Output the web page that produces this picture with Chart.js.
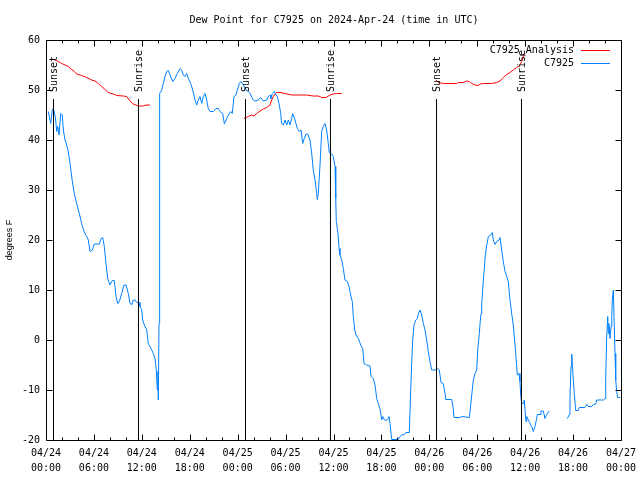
<!DOCTYPE html>
<html>
<head>
<meta charset="utf-8">
<title>Dew Point for C7925</title>
<script src="https://cdn.jsdelivr.net/npm/chart.js@4.4.1/dist/chart.umd.min.js"></script>
<style>
  html, body { margin: 0; padding: 0; background: #fff; }
  #wrap { width: 640px; height: 480px; }
</style>
</head>
<body>
<div id="wrap"><canvas id="dewChart" width="640" height="480"></canvas></div>
<script>
// Chart text
const chartTitle = 'Dew Point for C7925 on 2024-Apr-24 (time in UTC)';
const yAxisTitle = 'degrees F';
const legendLabels = ['C7925_Analysis', 'C7925'];
const seriesColors = ['rgb(255,0,0)', 'rgb(0,128,255)'];

// x axis: hours since 04/24 00:00 UTC, labelled every 6 hours
const xTickLabels = [
    ['04/24', '00:00'], ['04/24', '06:00'], ['04/24', '12:00'], ['04/24', '18:00'],
    ['04/25', '00:00'], ['04/25', '06:00'], ['04/25', '12:00'], ['04/25', '18:00'],
    ['04/26', '00:00'], ['04/26', '06:00'], ['04/26', '12:00'], ['04/26', '18:00'],
    ['04/27', '00:00']
];
const yMin = -20, yMax = 60, yStep = 10;

// Sunset / sunrise markers (hours) and the height their lines reach
const eventHours = [0.94, 11.58, 24.98, 35.62, 48.90, 59.54];
const eventLabels = ['Sunset', 'Sunrise', 'Sunset', 'Sunrise', 'Sunset', 'Sunrise'];
const eventTop = 48.2;

// Analysis dew point [hour, degF]; null = no data
const analysisSeries = [
    [0.79, 56.2], [1.13, 56], [1.54, 55.7], [1.97, 55.3], [2.38, 55], [2.79, 54.7],
    [3.22, 54.1], [3.54, 53.7], [3.84, 53.2], [4.47, 52.9], [5.10, 52.5], [5.72, 52],
    [6.14, 51.8], [6.55, 51.3], [6.97, 50.7], [7.39, 50.1], [7.80, 49.5], [8.43, 49.2],
    [8.85, 48.9], [9.68, 48.8], [10.11, 48.7], [10.52, 47.8], [10.93, 47.2], [11.56, 46.8],
    [12.18, 46.8], [12.52, 47], [13.02, 47],
    [18, null],
    [24.79, 44.3], [25.33, 44.7], [25.76, 45], [26.05, 44.8], [26.38, 45.3], [26.80, 45.8],
    [27.21, 46.2], [27.64, 46.5], [28.05, 47], [28.26, 48], [28.46, 48.7], [28.68, 49.2],
    [28.89, 49.5], [29.30, 49.5], [29.93, 49.3], [30.77, 49], [31.59, 49], [32.64, 49],
    [33.47, 48.8], [34.10, 48.8], [34.52, 48.5], [35.06, 48.5], [35.56, 49], [35.98, 49.2],
    [36.40, 49.3], [37.03, 49.3],
    [42, null],
    [48.84, 52], [49.12, 51.5], [49.75, 51.3], [51.43, 51.3], [51.63, 51.5], [52.25, 51.5],
    [52.68, 51.8], [53.01, 51.7], [53.31, 51.3], [53.72, 51], [54.13, 50.9], [54.35, 51.2],
    [54.76, 51.3], [55.81, 51.3], [56.44, 51.5], [56.85, 51.8], [57.26, 52.5], [57.69, 53.1],
    [58.10, 53.5], [58.51, 54], [58.94, 54.5], [59.27, 54.8], [59.57, 55.7], [59.77, 56.7],
    [59.98, 57.3]
];

// Observed dew point at C7925 [hour, degF]; null = no data
const observedSeries = [
    [0.29, 45.7], [0.59, 43.3], [0.79, 46], [0.91, 46.3], [1.04, 45.7], [1.21, 44],
    [1.34, 41.7], [1.47, 42.7], [1.63, 41], [1.84, 45.3], [2.04, 45], [2.17, 42],
    [2.38, 40], [2.59, 39], [2.79, 37.7], [3.01, 35.3], [3.29, 31.8], [3.54, 29.3],
    [3.84, 27.3], [4.17, 25.3], [4.47, 23.3], [4.76, 21.7], [5.10, 20.7], [5.30, 20],
    [5.51, 17.7], [5.80, 18], [6.05, 19.2], [6.67, 19.2], [6.89, 20.3], [7.10, 20.5],
    [7.30, 18.7], [7.51, 15.3], [7.73, 12.3], [8.01, 11], [8.30, 11.9], [8.55, 11.9],
    [8.77, 8.7], [8.98, 7.3], [9.18, 7.7], [9.48, 9.3], [9.77, 11], [10.02, 11],
    [10.31, 9.3], [10.52, 7.3], [10.77, 7.1], [10.93, 8], [11.14, 8], [11.36, 7.5],
    [11.65, 7.5], [11.77, 6.7], [11.98, 6.1], [12.11, 4], [12.31, 3], [12.61, 2],
    [12.81, -0.7], [13.15, -1.7], [13.44, -2.7], [13.65, -3.7], [13.81, -6], [13.94, -10],
    [14.02, -6.3], [14.06, -12], [14.15, 3.3], [14.19, 34], [14.27, 49.3], [14.49, 50],
    [14.69, 51.3], [14.90, 52.7], [15.11, 53.7], [15.31, 53.9], [15.53, 53], [15.87, 51.7],
    [16.15, 52.3], [16.44, 53.3], [16.78, 54.3], [16.99, 54], [17.19, 53], [17.41, 52.7],
    [17.62, 53.3], [17.82, 52.3], [18.12, 51.3], [18.37, 50], [18.66, 48], [18.87, 47],
    [19.07, 48], [19.28, 48.7], [19.50, 47.3], [19.70, 48.7], [19.91, 49.3], [20.12, 48],
    [20.32, 46.3], [20.54, 45.7], [20.95, 45.7], [21.29, 46.3], [21.58, 46.3], [21.79, 45.7],
    [22.13, 45.3], [22.33, 43.2], [22.63, 44.3], [22.83, 45], [23.13, 45.7], [23.33, 45.3],
    [23.54, 48.7], [23.79, 49], [23.95, 50], [24.21, 51.3], [24.42, 51.7], [24.71, 51],
    [25.04, 50], [25.33, 49.7], [25.54, 49.3], [25.96, 48], [26.17, 47.8], [26.58, 48],
    [26.88, 48.5], [27.21, 47.8], [27.64, 48], [27.84, 48.7], [28.05, 49], [28.17, 48.3],
    [28.34, 49.3], [28.59, 49.7], [28.80, 49], [28.96, 48.7], [29.18, 47.3], [29.39, 45.3],
    [29.51, 43.3], [29.71, 43], [29.93, 44], [30.14, 43], [30.34, 44], [30.55, 43],
    [30.76, 44.3], [30.89, 45.3], [31.18, 44], [31.47, 42.3], [31.72, 41.7], [31.93, 42],
    [32.14, 39.3], [32.34, 40.3], [32.56, 41.2], [32.77, 41.2], [33.06, 40], [33.27, 37.3],
    [33.47, 34], [33.68, 32], [33.90, 29.3], [33.97, 28.1], [34.10, 29.3], [34.31, 35],
    [34.52, 41.7], [34.72, 42.7], [34.94, 43.3], [35.15, 42], [35.35, 39.3], [35.47, 37.5],
    [35.78, 37.2], [35.98, 36.7], [36.19, 34.7], [36.28, 28.3], [36.35, 23.7], [36.48, 22.3],
    [36.60, 20.7], [36.69, 18.3], [36.81, 17], [37.03, 16], [37.23, 14.3], [37.44, 12],
    [37.73, 11.7], [37.94, 10.7], [38.15, 9], [38.35, 7.7], [38.48, 4.7], [38.66, 2],
    [38.82, 1], [39.11, 0.3], [39.41, -1], [39.66, -1.7], [39.82, -4.7], [40.16, -5],
    [40.57, -5.2], [40.70, -7.3], [40.98, -7.7], [41.20, -9], [41.41, -11.7], [41.61, -12.7],
    [41.82, -13.7], [42.04, -16], [42.16, -15.3], [42.36, -15.9], [42.58, -16.1], [42.79, -15.9],
    [42.95, -15.3], [43.08, -16.7], [43.29, -19.9], [44.11, -19.9], [44.33, -19.3], [44.54, -19],
    [44.87, -18.9], [45.04, -18.5], [45.49, -18.5], [45.67, -10], [45.79, -4.7], [45.92, 0],
    [46.08, 3], [46.29, 4], [46.49, 4.3], [46.71, 5.7], [46.83, 6], [47.04, 5],
    [47.25, 3.3], [47.46, 2], [47.67, 0], [47.87, -2.3], [48.08, -4.3], [48.30, -6],
    [48.84, -6], [49.00, -5.7], [49.25, -6], [49.46, -8.5], [49.75, -8.7], [49.96, -10.7],
    [50.05, -11.9], [50.80, -11.9], [51.00, -13.7], [51.09, -15.5], [51.84, -15.5], [52.05, -15.3],
    [53.01, -15.5], [53.18, -13], [53.31, -11], [53.51, -8], [53.72, -6.7], [53.93, -6],
    [54.06, -2], [54.26, 1.3], [54.35, 3.3], [54.47, 5.3], [54.56, 7.3], [54.68, 10],
    [54.76, 12], [54.89, 14.3], [55.01, 17], [55.19, 19], [55.39, 20.7], [55.69, 21],
    [55.89, 21.5], [56.01, 20], [56.23, 19.1], [56.44, 19.7], [56.73, 20], [56.85, 20.5],
    [57.06, 18], [57.26, 15.7], [57.48, 13.7], [57.69, 12.7], [57.89, 11.7], [58.10, 8],
    [58.31, 5.3], [58.51, 3], [58.64, 0.7], [58.85, -3.3], [59.02, -7], [59.23, -6.7],
    [59.35, -8.3], [59.44, -11], [59.57, -12.7], [59.77, -12.7], [59.89, -12], [59.98, -14.1],
    [60.11, -16.3], [60.19, -15.3], [60.48, -16.3], [60.82, -17.3], [61.02, -18.3], [61.23, -17.3],
    [61.44, -15.7], [61.52, -14.9], [61.86, -14.9], [61.98, -14.2], [62.27, -14.2], [62.48, -15.7],
    [62.69, -14.9], [63.02, -14.2],
    [64, null],
    [65.28, -15.7], [65.53, -14.9], [65.61, -11.7], [65.74, -5.3], [65.83, -2.8], [65.90, -4.7],
    [66.03, -8], [66.15, -10.7], [66.33, -14.1], [66.65, -14.1], [66.78, -13.5], [67.49, -13.5],
    [67.71, -12.9], [67.91, -13.3], [68.33, -13.3], [68.54, -12.9], [68.83, -12.8], [68.96, -12],
    [69.79, -12], [70.00, -11.7], [70.09, -7.3], [70.21, 0.7], [70.34, 4.7], [70.41, 1.3],
    [70.49, 3.3], [70.62, 0.3], [70.75, 2.7], [70.84, 4.7], [70.91, 8], [71.04, 10],
    [71.16, 2.7], [71.25, -2.7], [71.34, -8], [71.46, -10.3], [71.59, -11.5], [71.88, -11.5]
];

const monoFont = '"DejaVu Sans Mono", "Liberation Mono", monospace';

function toPoints(series) {
    return series.map(p => ({ x: p[0], y: p[1] }));
}

// Frame, inward ticks, title, axis label, event labels and legend (gnuplot look)
const gnuplotDecor = {
    id: 'gnuplotDecor',
    afterDatasetsDraw(chart) {
        const { ctx, chartArea: a, scales: { x, y } } = chart;
        const L = Math.round(a.left) + 0.5, R = Math.round(a.right) + 0.5;
        const T = Math.round(a.top) + 0.5, B = Math.round(a.bottom) + 0.5;
        ctx.save();
        ctx.strokeStyle = '#000';
        ctx.lineWidth = 1;
        ctx.beginPath();
        ctx.rect(L, T, R - L, B - T);

        // x ticks: major every 6 h, minor every 2 h, on bottom and top edges
        for (let h = 0; h <= 72; h += 2) {
            const px = Math.round(x.getPixelForValue(h)) + 0.5;
            const len = (h % 6 === 0) ? 6 : 3;
            ctx.moveTo(px, B); ctx.lineTo(px, B - len);
            ctx.moveTo(px, T); ctx.lineTo(px, T + len);
        }
        // y ticks on left and right edges
        for (let v = yMin; v <= yMax; v += yStep) {
            const py = Math.round(y.getPixelForValue(v)) + 0.5;
            ctx.moveTo(L, py); ctx.lineTo(L + 6, py);
            ctx.moveTo(R, py); ctx.lineTo(R - 6, py);
        }
        ctx.stroke();

        ctx.fillStyle = '#000';
        ctx.font = '10px ' + monoFont;

        // title
        ctx.textAlign = 'center';
        ctx.textBaseline = 'middle';
        ctx.fillText(chartTitle, (a.left + a.right) / 2 + 0.5, 20);

        // sunset / sunrise labels, rotated, just above each line
        eventHours.forEach((h, i) => {
            const px = x.getPixelForValue(h);
            const py = y.getPixelForValue(eventTop) - 7;
            ctx.save();
            ctx.translate(px + 1, py);
            ctx.rotate(-Math.PI / 2);
            ctx.textAlign = 'left';
            ctx.textBaseline = 'middle';
            ctx.fillText(eventLabels[i], 0, 0);
            ctx.restore();
        });

        // legend, top right inside the frame
        legendLabels.forEach((label, i) => {
            const ly = 50 + i * 13;
            ctx.textAlign = 'right';
            ctx.textBaseline = 'middle';
            ctx.fillStyle = '#000';
            ctx.fillText(label, 574, ly);
            ctx.strokeStyle = seriesColors[i];
            ctx.beginPath();
            ctx.moveTo(581, ly + 0.5);
            ctx.lineTo(610, ly + 0.5);
            ctx.stroke();
        });

        // y axis title
        ctx.save();
        ctx.translate(10, (a.top + a.bottom) / 2);
        ctx.rotate(-Math.PI / 2);
        ctx.font = '9px "Liberation Sans", Arial, sans-serif';
        ctx.fillStyle = '#000';
        ctx.textAlign = 'center';
        ctx.textBaseline = 'middle';
        ctx.fillText(yAxisTitle, 0, 0);
        ctx.restore();

        ctx.restore();
    }
};

const eventDatasets = eventHours.map(h => ({
    data: [{ x: h, y: yMin }, { x: h, y: eventTop }],
    borderColor: '#000',
    borderWidth: 1,
    pointRadius: 0
}));

new Chart(document.getElementById('dewChart'), {
    type: 'line',
    data: {
        datasets: [
            ...eventDatasets,
            {
                label: legendLabels[1],
                data: toPoints(observedSeries),
                borderColor: seriesColors[1],
                borderWidth: 1,
                pointRadius: 0,
                tension: 0,
                spanGaps: false
            },
            {
                label: legendLabels[0],
                data: toPoints(analysisSeries),
                borderColor: seriesColors[0],
                borderWidth: 1,
                pointRadius: 0,
                tension: 0,
                spanGaps: false
            }
        ]
    },
    options: {
        responsive: false,
        animation: false,
        devicePixelRatio: 1,
        layout: { padding: { top: 40, right: 19, left: 0, bottom: 0 } },
        plugins: {
            legend: { display: false },
            title: { display: false },
            tooltip: { enabled: false }
        },
        scales: {
            x: {
                type: 'linear',
                min: 0,
                max: 72,
                afterFit: s => {
                    s.height = 40;
                    s.paddingLeft = 0;
                    s.paddingRight = 0;
                },
                afterBuildTicks: s => {
                    s.ticks = xTickLabels.map((_, i) => ({ value: i * 6 }));
                },
                grid: { display: false, drawTicks: false },
                border: { display: false },
                ticks: {
                    autoSkip: false,
                    maxRotation: 0,
                    padding: 6,
                    color: '#000',
                    font: { family: monoFont, size: 10, lineHeight: 1.5 },
                    callback: (v, i) => xTickLabels[i]
                }
            },
            y: {
                min: yMin,
                max: yMax,
                afterFit: s => {
                    s.width = 46;
                    s.paddingTop = 0;
                    s.paddingBottom = 0;
                },
                grid: { display: false, drawTicks: false },
                border: { display: false },
                ticks: {
                    stepSize: yStep,
                    padding: 6,
                    color: '#000',
                    font: { family: monoFont, size: 10 }
                }
            }
        }
    },
    plugins: [gnuplotDecor]
});
</script>
</body>
</html>
